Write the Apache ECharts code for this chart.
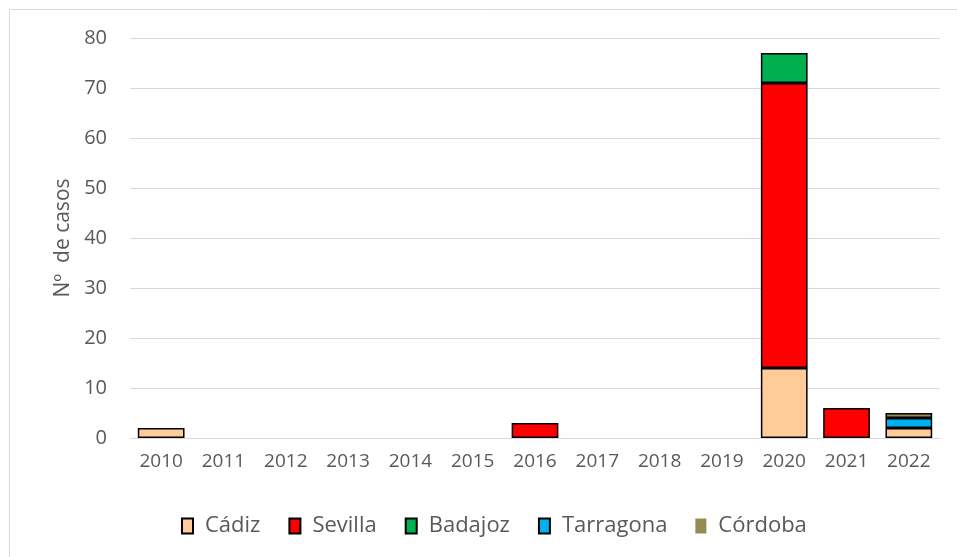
<!DOCTYPE html>
<html>
<head>
<meta charset="utf-8">
<script src="https://cdn.jsdelivr.net/npm/echarts@6/dist/echarts.min.js"></script>
<style>
  html, body { margin: 0; padding: 0; background: #fff; }
  #chart { width: 957px; height: 557px; }
</style>
</head>
<body>
<div id="chart"></div>
<script>
// años
const years = ["2010", "2011", "2012", "2013", "2014", "2015", "2016", "2017", "2018", "2019", "2020", "2021", "2022"]
// casos por provincia
const cadiz = [2, 0, 0, 0, 0, 0, 0, 0, 0, 0, 14, 0, 2]
const sevilla = [0, 0, 0, 0, 0, 0, 3, 0, 0, 0, 57, 6, 0]
const badajoz = [0, 0, 0, 0, 0, 0, 0, 0, 0, 0, 6, 0, 0]
const tarragona = [0, 0, 0, 0, 0, 0, 0, 0, 0, 0, 0, 0, 2]
const cordoba = [0, 0, 0, 0, 0, 0, 0, 0, 0, 0, 0, 0, 1]
const yTicks = [0, 10, 20, 30, 40, 50, 60, 70, 80]

const font = "'Open Sans', 'Noto Sans', sans-serif"
const txt = "#595959"

const myChart = echarts.init(document.getElementById("chart"))

function serie(name, data, color) {
  return {
    name: name,
    type: "bar",
    stack: "total",
    barCategoryGap: "25%",
    itemStyle: { color: color, borderColor: "#000", borderWidth: 1.5 },
    // ocultar segmentos vacios
    data: data.map(v => (v === 0 ? null : v))
  }
}

const option = {
  animation: false,
  textStyle: { fontFamily: font },
  graphic: [
    {
      type: "rect",
      shape: { x: 9.5, y: 9.5, width: 980, height: 580 },
      style: { fill: "none", stroke: "#d9d9d9", lineWidth: 1 }
    }
  ],
  grid: { left: 130, right: 17, top: 38, bottom: 119 },
  legend: {
    top: 510,
    left: 176,
    itemWidth: 11,
    itemHeight: 15,
    itemGap: 28,
    icon: "rect",
    textStyle: { color: txt, fontSize: 22, fontFamily: font, padding: [0, 0, 0, 7] },
    data: [
      { name: "Cádiz" },
      { name: "Sevilla" },
      { name: "Badajoz" },
      { name: "Tarragona" },
      { name: "Córdoba", itemStyle: { borderWidth: 0 } }
    ]
  },
  xAxis: {
    type: "category",
    data: years,
    axisLine: { lineStyle: { color: "#d9d9d9", width: 1 } },
    axisTick: { show: false },
    axisLabel: { color: txt, fontSize: 19, margin: 14 }
  },
  yAxis: {
    type: "value",
    min: yTicks[0],
    max: yTicks[yTicks.length - 1],
    interval: 10,
    name: "Nº  de casos",
    nameLocation: "middle",
    nameGap: 54,
    nameTextStyle: { color: txt, fontSize: 21 },
    axisLine: { show: false },
    axisTick: { show: false },
    axisLabel: { color: txt, fontSize: 20, margin: 23 },
    splitLine: { lineStyle: { color: "#d9d9d9", width: 1 } }
  },
  series: [
    serie("Cádiz", cadiz, "#FFCC99"),
    serie("Sevilla", sevilla, "#FF0000"),
    serie("Badajoz", badajoz, "#00B050"),
    serie("Tarragona", tarragona, "#00B0F0"),
    serie("Córdoba", cordoba, "#948A54")
  ]
}
myChart.setOption(option)
</script>
</body>
</html>
